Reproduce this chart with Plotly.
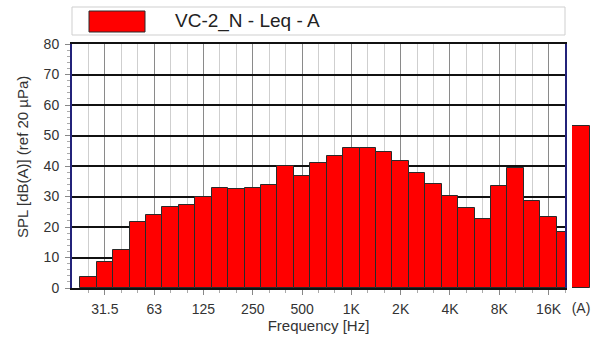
import plotly.graph_objects as go

# third-octave bands 25 Hz .. 20 kHz, A-weighted Leq
bands = ["25", "31.5", "40", "50", "63", "80", "100", "125", "160", "200",
         "250", "315", "400", "500", "630", "800", "1K", "1.25K", "1.6K", "2K",
         "2.5K", "3.15K", "4K", "5K", "6.3K", "8K", "10K", "12.5K", "16K", "20K"]
leq = [3.6, 8.5, 12.5, 21.5, 24.0, 26.4, 27.3, 29.9, 32.7, 32.4,
       32.7, 33.8, 40.0, 36.7, 40.9, 43.3, 45.9, 45.9, 44.7, 41.6,
       37.8, 34.0, 30.1, 26.3, 22.5, 33.4, 39.3, 28.6, 23.2, 18.5]
overall_label = "(A)"
overall = [53.0]

octave_labels = ["31.5", "63", "125", "250", "500", "1K", "2K", "4K", "8K", "16K"]
series_name = "VC-2_N - Leq - A"

idx = list(range(len(bands)))
octave_idx = [bands.index(b) for b in octave_labels]

FONT = "Liberation Sans, Arial, sans-serif"
NAVY = "#23237a"
RED = "#ff0000"
TXT = "#333333"

fig = go.Figure()
fig.add_trace(go.Bar(
    x=idx, y=leq, name=series_name, customdata=bands,
    marker=dict(color=RED, line=dict(color="#2a2a2a", width=1)),
    hovertemplate="%{customdata} Hz: %{y} dB(A)<extra></extra>",
    showlegend=False,
))
fig.add_trace(go.Bar(
    x=[overall_label], y=overall, name="Overall",
    xaxis="x2", yaxis="y2",
    marker=dict(color=RED, line=dict(color="#2a2a2a", width=1)),
    showlegend=False,
))

# plot area in pixels: x 72..565 (main), 572..590 (overall), y 44..288
L, R, T, B = 72, 5, 44, 52
W = 595 - L - R
H = 340 - T - B
def px(x):
    return (x - L) / W
def py(y):
    return (340 - B - y) / H

fig.update_layout(
    width=595, height=340,
    margin=dict(l=L, r=R, t=T, b=B),
    paper_bgcolor="white", plot_bgcolor="white",
    bargap=0,
    font=dict(family=FONT, size=14, color=TXT),
    xaxis=dict(
        domain=[0, px(565)], range=[-1, 29],
        tickmode="array", tickvals=octave_idx, ticktext=octave_labels,
        showgrid=True, gridcolor="#8a8a8a", gridwidth=1,
        ticks="outside", ticklen=5, tickcolor="#888888",
        minor=dict(tickmode="array", tickvals=idx, showgrid=True,
                   gridcolor="#cfcfcf", gridwidth=1,
                   ticks="outside", ticklen=3, tickcolor="#aaaaaa"),
        showline=True, linecolor="#111111", linewidth=2, mirror=True,
        zeroline=False, ticklabelstandoff=2,
        tickfont=dict(size=14, color=TXT),
        title=dict(text="Frequency [Hz]", font=dict(size=15, color=TXT),
                   standoff=4),
    ),
    yaxis=dict(
        range=[0, 80], tickmode="array", tickvals=list(range(0, 81, 10)),
        showgrid=True, gridcolor="#111111", gridwidth=2,
        ticks="outside", ticklen=5, tickcolor="#888888",
        minor=dict(dtick=2, ticks="outside", ticklen=3, tickcolor="#aaaaaa",
                   showgrid=False),
        showline=True, linecolor=NAVY, linewidth=2, mirror=True,
        zeroline=False, ticklabelstandoff=3,
        tickfont=dict(size=14, color=TXT),
    ),
    xaxis2=dict(
        domain=[px(572), 1.0], anchor="y2", range=[-0.5, 0.5],
        showgrid=False, showline=False, zeroline=False, ticks="",
        ticklabelstandoff=10, tickfont=dict(size=14, color=TXT),
    ),
    yaxis2=dict(domain=[0, 1], anchor="x2", range=[0, 80], visible=False),
)

# y title sits a little above the axis centre in the original
fig.add_annotation(xref="paper", yref="paper", x=px(22), y=py(157),
                   xanchor="center", yanchor="middle", showarrow=False,
                   textangle=-90, text="SPL [dB(A)] (ref 20 µPa)",
                   font=dict(family=FONT, size=15, color=TXT))

# legend box drawn by hand (large swatch as in the original)
fig.add_shape(type="rect", xref="paper", yref="paper",
              x0=0, x1=px(565), y0=py(35), y1=py(7),
              line=dict(color="#cfcfcf", width=1), fillcolor="white")
fig.add_shape(type="rect", xref="paper", yref="paper",
              x0=px(89), x1=px(145), y0=py(32), y1=py(11),
              line=dict(color="#2a2a2a", width=1), fillcolor=RED)
fig.add_annotation(xref="paper", yref="paper", x=px(173), y=py(21),
                   xanchor="left", yanchor="middle", showarrow=False,
                   text=series_name,
                   font=dict(family=FONT, size=19, color="#222222"))

# page body has a default 8px margin; remove it so the figure fills the window
fig.write_html("out.html", config={"displayModeBar": False},
               post_script="document.body.style.margin='0';")
